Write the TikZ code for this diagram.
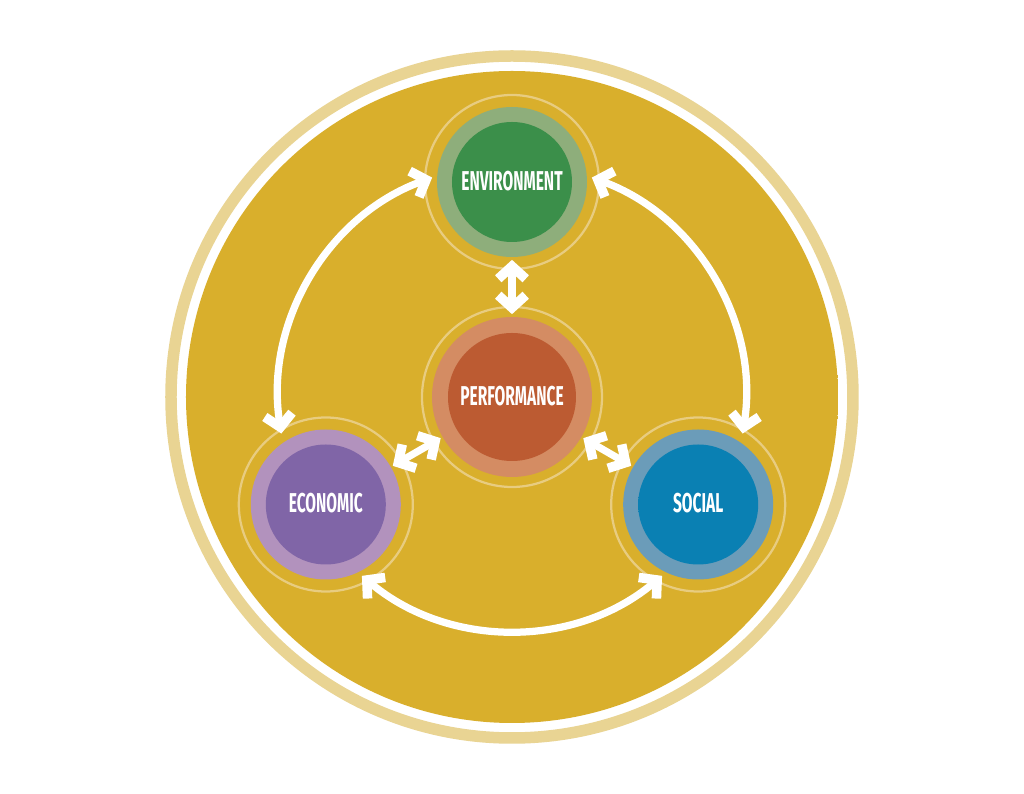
\documentclass[tikz,border=0pt]{standalone}
\usepackage{fontspec}
\usetikzlibrary{arrows.meta,positioning,calc}
\newfontfamily\hubfont{Fira Sans}
\definecolor{paleGold}{HTML}{E9D493}
\definecolor{goldIn}{HTML}{D9AF2C}
\definecolor{goldOut}{HTML}{C49B22}
\definecolor{faint}{HTML}{E8CC80}
\definecolor{envLight}{HTML}{8EAE7B}
\definecolor{envDark}{HTML}{3B8F4A}
\definecolor{perfLight}{HTML}{D48C63}
\definecolor{perfDark}{HTML}{BC5B32}
\definecolor{ecoLight}{HTML}{B292BD}
\definecolor{ecoDark}{HTML}{8065A7}
\definecolor{socLight}{HTML}{6B9CB9}
\definecolor{socDark}{HTML}{0A80B3}
\colorlet{hubcol}{envDark}
\pgfdeclareradialshading{golddisc}{\pgfpoint{0bp}{0bp}}{color(0bp)=(goldIn); color(30bp)=(goldIn); color(50bp)=(goldOut)}
\pgfdeclareradialshading[hubcol]{hubcore}{\pgfpoint{0bp}{0bp}}{color(0bp)=(hubcol); color(41bp)=(hubcol); color(50bp)=(hubcol!72!black)}
\newcommand{\hublabel}[1]{{\hubfont\bfseries\fontsize{15.5}{15.5}\selectfont\raisebox{0.06cm}{\scalebox{0.57}[1]{#1}}}}
\tikzset{
  glow/.style={circle,draw=faint,line width=0.045cm,inner sep=0pt,minimum size=#1},
  ring/.style={circle,inner sep=0pt,minimum size=#1},
  core/.style={circle,inner sep=0pt,minimum size=2.4cm,text=white,shading=hubcore,
    /utils/exec={\colorlet{hubcol}{#1}}},
  link/.style={white,line width=0.145cm,
    {Straight Barb[length=0.25cm,width=0.55cm,line width=0.19cm]}-{Straight Barb[length=0.25cm,width=0.55cm,line width=0.19cm]}},
}

\begin{document}
\begin{tikzpicture}
  \useasboundingbox[fill=white] (-10.24,-7.94) rectangle (10.24,7.94);
  % background disc
  \draw[paleGold,line width=0.23cm] (0,0) circle[radius=6.82];
  \shade[shading=golddisc] (0,0) circle[radius=6.52];
  % faint outer rings
  \node[glow=3.6cm] at (0,0) {};
  \node[glow=3.48cm] at (90:4.3) {};
  \node[glow=3.48cm] at (210:4.3) {};
  \node[glow=3.48cm] at (330:4.3) {};
  % hubs
  \node[ring=3.2cm,fill=perfLight] (perf) at (0,0) {};
  \node[ring=3cm,fill=envLight] (env) at (90:4.3) {};
  \node[ring=3cm,fill=ecoLight] (eco) at (210:4.3) {};
  \node[ring=3cm,fill=socLight] (soc) at (330:4.3) {};
  \node[core=perfDark,minimum size=2.56cm] (perfcore) at (perf) {\hublabel{PERFORMANCE}};
  \node[core=envDark] (envcore) at (env) {\hublabel{ENVIRONMENT}};
  \node[core=ecoDark] (ecocore) at (eco) {\hublabel{ECONOMIC}};
  \node[core=socDark] (soccore) at (soc) {\hublabel{SOCIAL}};
  % links to the centre
  \draw[link,shorten <=0.05cm,shorten >=0.05cm] (env) -- (perf);
  \draw[link,shorten <=0.04cm,shorten >=0.04cm] (perf) -- (eco);
  \draw[link,shorten <=0.04cm,shorten >=0.04cm] (perf) -- (soc);
  % links round the outside
  \coordinate (envW) at (110:4.67);
  \coordinate (envE) at (70:4.67);
  \coordinate (ecoS) at (230:4.67);
  \draw[link] (envW) arc[start angle=110,end angle=189,radius=4.67];
  \draw[link] (envE) arc[start angle=70,end angle=-9,radius=4.67];
  \draw[link] (ecoS) arc[start angle=230,end angle=310,radius=4.67];
\end{tikzpicture}
\end{document}
